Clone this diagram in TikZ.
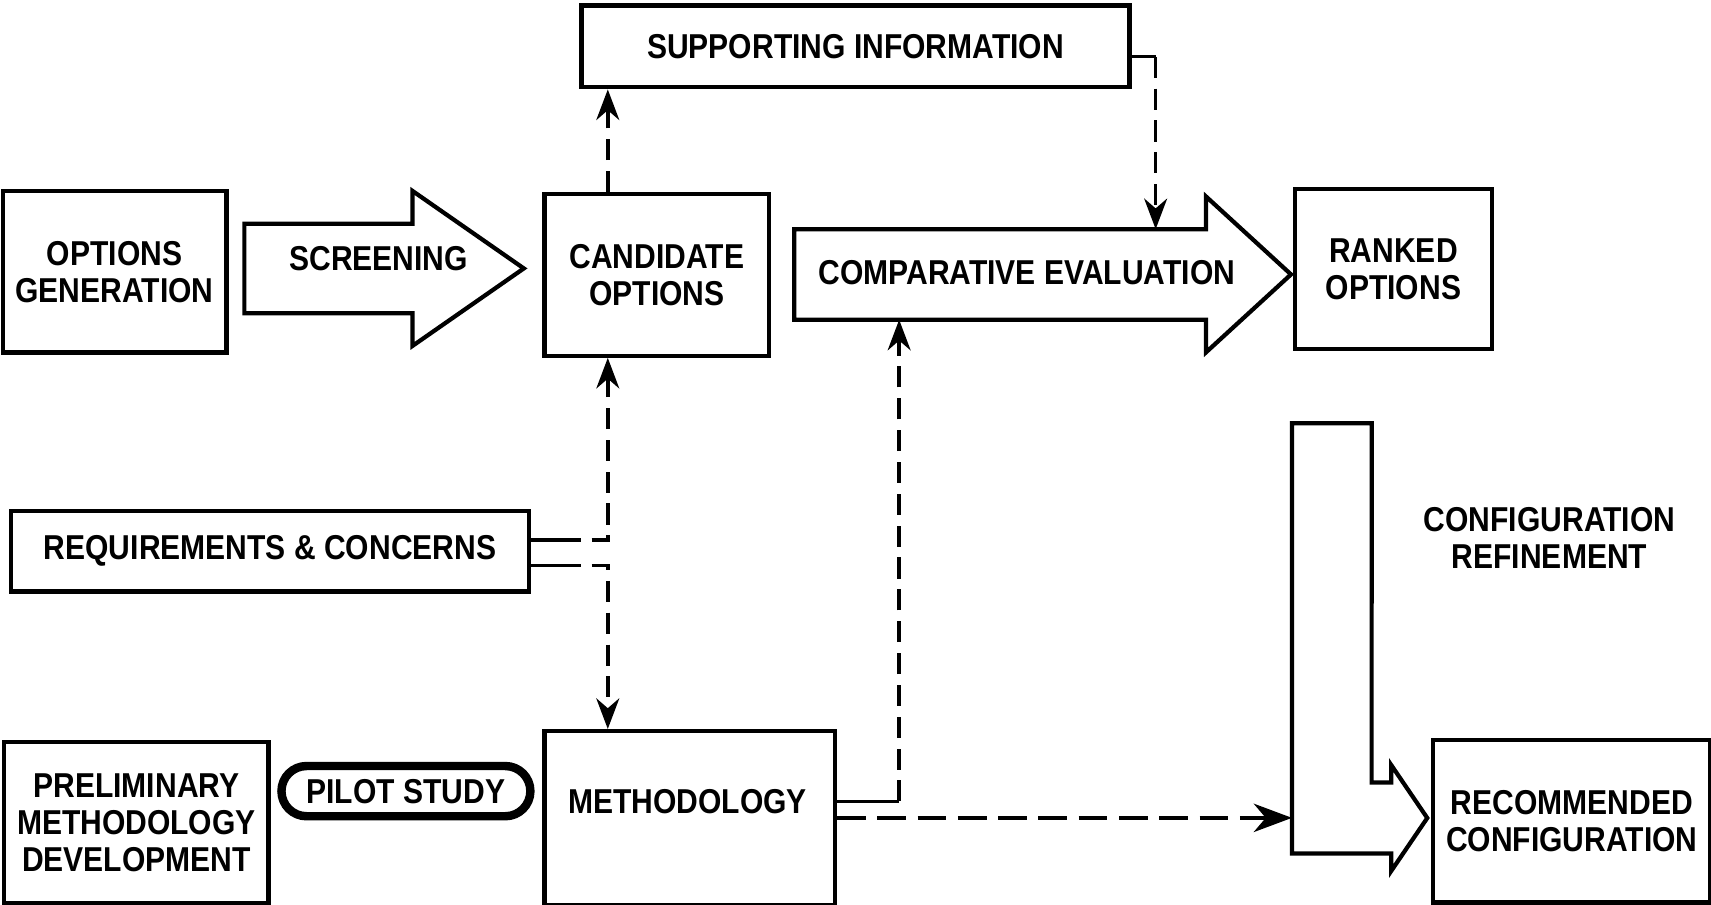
\documentclass[tikz,border=0pt]{standalone}
\usepackage{fontspec}
\setmainfont{Liberation Sans}[FakeStretch=0.87]
\usetikzlibrary{arrows.meta}
\tikzset{
    base/.style={
    font=\bfseries\fontsize{9}{9.6}\selectfont,align=center
    },
    block/.style={
    base,rectangle,draw=black,line width=1.1pt
    },
    tag/.style={
    base,inner sep=1pt
    },
    pill/.style={
    base,rectangle,rounded corners=0.23cm,draw=black,line width=2.2pt
    },
    shaft/.style={
    rectangle,inner sep=0pt,outer sep=0pt
    },
    bigarrow/.style={
    draw=black,line width=1.1pt,line join=miter
    },
    stub/.style={
    line width=0.9pt
    },
    link/.style={
    line width=0.9pt,dash pattern=on 5.5pt off 2.8pt
    },
    longlink/.style={
    line width=0.9pt,dash pattern=on 7.5pt off 3pt
    },
}

\begin{document}
\begin{tikzpicture}[x=0.01cm, y=-0.01cm, >={Stealth[length=2.8mm,width=2.1mm,inset=0.9mm]}]
   \useasboundingbox (0,0) rectangle (1568,829);

   %top row
   \node[block, minimum width=2cm, minimum height=1.48cm] (optgen) at (105,249) {OPTIONS\\GENERATION};
   \node[shaft, minimum width=1.54cm, minimum height=0.82cm] (screenbody) at (301,246) {};
   \node[tag] (screen) at (347,237) {SCREENING};
   \node[block, minimum width=2.06cm, minimum height=1.48cm] (cand) at (602,252) {CANDIDATE\\OPTIONS};
   \node[block, minimum width=5.02cm, minimum height=0.75cm] (supinfo) at (784,42.5) {SUPPORTING INFORMATION};
   \node[shaft, minimum width=3.77cm, minimum height=0.83cm] (evalbody) at (916.5,251.5) {};
   \node[tag] (evaltext) at (941,250) {COMPARATIVE EVALUATION};
   \node[block, minimum width=1.8cm, minimum height=1.47cm] (ranked) at (1277,246.5) {RANKED\\OPTIONS};

   %middle and bottom row
   \node[block, minimum width=4.75cm, minimum height=0.74cm] (req) at (247.5,505) {REQUIREMENTS \& CONCERNS};
   \node[block, minimum width=2.4cm, minimum height=1.48cm] (prelim) at (125,754) {PRELIMINARY\\METHODOLOGY\\DEVELOPMENT};
   \node[pill, minimum width=2.28cm, minimum height=0.46cm] (pilot) at (372,725) {PILOT STUDY};
   \node[block, minimum width=2.66cm, minimum height=1.59cm] (method) at (632,749.5) {};
   \node[tag] (methodtxt) at (630,735) {METHODOLOGY};
   \node[shaft, minimum width=0.73cm, minimum height=3.94cm] (refbar) at (1220.5,585) {};
   \node[tag] (refinetxt) at (1420,493) {CONFIGURATION\\REFINEMENT};
   \node[block, minimum width=2.47cm, minimum height=1.49cm] (recconf) at (1440.5,752.5) {RECOMMENDED\\CONFIGURATION};

   %wide arrows
   \draw[bigarrow] (screenbody.south west) -- (screenbody.north west) -- (screenbody.north east)
     -- ++(0,-30) -- ++(102,71) -- ++(-102,71) -- (screenbody.south east) -- cycle;
   \draw[bigarrow] (evalbody.south west) -- (evalbody.north west) -- (evalbody.north east)
     -- ++(0,-30) -- ++(78,71.5) -- ++(-78,71.5) -- (evalbody.south east) -- cycle;
   \draw[bigarrow] (refbar.north west) -- (refbar.south west) -- ++(91,0) -- ++(0,16)
     -- ++(33,-48.5) -- ++(-33,-48.5) -- ++(0,16) -- ++(-18,0) -- (refbar.north east) -- cycle;

   %dashed links
   \coordinate (vline) at (557,0);
   \draw[link,->] (cand.north -| vline) -- (supinfo.south -| vline);
   \draw[stub] (supinfo.east |- 0,52) -- ++(22,0) coordinate (sj);
   \draw[link,->] (sj) -- (sj |- evalbody.north);

   %requirements into candidate and methodology
   \draw[stub] ([yshift=1mm]req.east) -- ++(45,0) coordinate (ru);
   \draw[link,->] ([xshift=1mm]ru) -| (cand.south -| vline);
   \draw[stub] ([yshift=-1.3mm]req.east) -- ++(45,0) coordinate (rl);
   \draw[link,->] ([xshift=1mm]rl) -| (method.north -| vline);

   %methodology out
   \draw[stub] ([yshift=1.5mm]method.east) -- ++(57,0) coordinate (mj);
   \draw[link,->] (mj) -- (mj |- evalbody.south);
   \draw[longlink,-{Stealth[length=3.5mm,width=2.6mm,inset=1.1mm]}] (method.east) -- (method.east -| refbar.west);
\end{tikzpicture}
\end{document}
